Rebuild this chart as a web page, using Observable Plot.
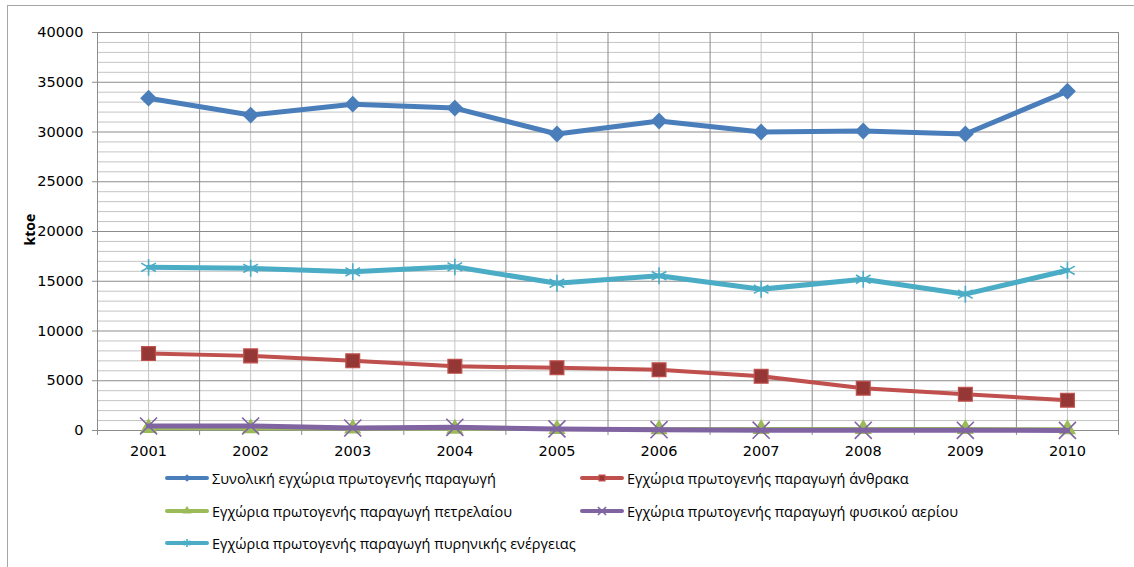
<!DOCTYPE html>
<html>
<head>
<meta charset="utf-8">
<script src="https://cdn.jsdelivr.net/npm/d3@7"></script>
<script src="https://cdn.jsdelivr.net/npm/@observablehq/plot@0.6"></script>
<style>
  html, body { margin: 0; padding: 0; background: #fff; }
  #frame {
    position: absolute; left: 7px; top: 5px; width: 1300px; height: 800px;
    border: 1px solid #a6a6a6; box-sizing: border-box;
  }
  #chart { position: absolute; left: 0; top: 0; }
  #legend { position: absolute; left: 0; top: 0; font-family: "Open Sans", sans-serif; font-size: 14.5px; color: #000; }
  .item { position: absolute; display: flex; align-items: center; white-space: nowrap; }
  .item svg { display: block; margin-right: 3px; }
</style>
</head>
<body>
<div id="frame"></div>
<div id="chart"></div>
<div id="legend"></div>
<script>
// Domestic primary energy production in Greece, ktoe
const years = [2001, 2002, 2003, 2004, 2005, 2006, 2007, 2008, 2009, 2010];
const seriesNames = [
  "Συνολική εγχώρια πρωτογενής παραγωγή",
  "Εγχώρια πρωτογενής παραγωγή άνθρακα",
  "Εγχώρια πρωτογενής παραγωγή πετρελαίου",
  "Εγχώρια πρωτογενής παραγωγή φυσικού αερίου",
  "Εγχώρια πρωτογενής παραγωγή πυρηνικής ενέργειας"
];
const totalValues   = [33400, 31700, 32800, 32400, 29800, 31100, 30000, 30100, 29800, 34100];
const coalValues    = [7730, 7500, 7000, 6450, 6300, 6100, 5450, 4250, 3650, 3050];
const oilValues     = [250, 230, 200, 170, 140, 130, 150, 150, 140, 130];
const gasValues     = [450, 450, 250, 320, 160, 80, 30, 20, 20, 10];
const nuclearValues = [16400, 16300, 15950, 16450, 14800, 15550, 14200, 15200, 13700, 16100];
const yTicks = [0, 5000, 10000, 15000, 20000, 25000, 30000, 35000, 40000];

const valueSets = [totalValues, coalValues, oilValues, gasValues, nuclearValues];

// drawing styles per series
const styles = [
  {stroke: "#4a7ebb", width: 5, symbol: "diamond2", r: 7.6, fill: "#4a7ebb", mstroke: "none",    msw: 0,   lr: 5.2},
  {stroke: "#c0504d", width: 4, symbol: "square",   r: 7.8, fill: "#953735", mstroke: "#c0504d", msw: 1.2, lr: 5.0},
  {stroke: "#9bbb59", width: 4, symbol: "triangle", r: 6.4, fill: "#9bbb59", mstroke: "none",    msw: 0,   lr: 5.0},
  {stroke: "#8064a2", width: 5, symbol: "times",    r: 7.8, fill: "none",    mstroke: "#8064a2", msw: 1.6, lr: 5.6},
  {stroke: "#4bacc6", width: 5, symbol: "asterisk", r: 8.0, fill: "none",    mstroke: "#4bacc6", msw: 1.6, lr: 5.6}
];

const rows = valueSets.map((vals, i) => years.map((year, j) => ({series: seriesNames[i], year, value: vals[j]})));

const minor = d3.range(0, 40001, 1000).filter(v => v % 5000 !== 0);
const boundaries = d3.range(years[0] - 0.5, years[years.length - 1] + 1, 1);

const seriesMarks = rows.flatMap((data, i) => {
  const s = styles[i];
  return [
    Plot.line(data, {x: "year", y: "value", stroke: s.stroke, strokeWidth: s.width, strokeLinejoin: "round", strokeLinecap: "round"}),
    Plot.dot(data, {x: "year", y: "value", symbol: s.symbol, r: s.r, fill: s.fill, stroke: s.mstroke, strokeWidth: s.msw})
  ];
});

const chart = Plot.plot({
  width: 1134,
  height: 470,
  marginLeft: 97,
  marginRight: 16,
  marginTop: 32,
  marginBottom: 40,
  x: {type: "linear", domain: [years[0] - 0.5, years[years.length - 1] + 0.5]},
  y: {domain: [0, 40000]},
  style: {fontFamily: "DejaVu Sans, sans-serif", fontSize: "14.5px", color: "#000", background: "transparent", overflow: "visible"},
  marks: [
    Plot.ruleY(minor, {stroke: "#c4c4c4", strokeWidth: 1}),
    Plot.ruleX(years, {stroke: "#c4c4c4", strokeWidth: 1}),
    Plot.ruleY(yTicks, {stroke: "#8c8c8c", strokeWidth: 1}),
    Plot.ruleX(boundaries, {stroke: "#8c8c8c", strokeWidth: 1}),
    Plot.axisY({ticks: yTicks, tickFormat: "d", tickSize: 5, tickPadding: 9, stroke: "#8c8c8c", label: null}),
    Plot.axisX({ticks: boundaries, tickFormat: () => "", tickSize: 5, stroke: "#8c8c8c", label: null}),
    Plot.axisX({ticks: years, tickFormat: "d", tickSize: 0, tickPadding: 15, label: null}),
    Plot.text(["ktoe"], {frameAnchor: "left", dx: -67, dy: 14, rotate: -90, fontWeight: "bold", fontFamily: "Open Sans, sans-serif", fontSize: 14}),
    ...seriesMarks
  ]
});
document.getElementById("chart").appendChild(chart);

// legend below the plot
const legendPos = [
  {left: 165, top: 478}, {left: 580, top: 478},
  {left: 165, top: 511}, {left: 580, top: 511},
  {left: 165, top: 543}
];
const symbolTypes = {diamond2: d3.symbolDiamond2, square: d3.symbolSquare, triangle: d3.symbolTriangle, times: d3.symbolTimes, asterisk: d3.symbolAsterisk};
const legend = d3.select("#legend");
seriesNames.forEach((name, i) => {
  const s = styles[i];
  const item = legend.append("div").attr("class", "item")
    .style("left", legendPos[i].left + "px")
    .style("top", (legendPos[i].top - 10) + "px")
    .style("height", "20px");
  const svg = item.append("svg").attr("width", 44).attr("height", 12);
  svg.append("line").attr("x1", 2).attr("x2", 42).attr("y1", 6).attr("y2", 6)
    .attr("stroke", s.stroke).attr("stroke-width", 4).attr("stroke-linecap", "round");
  svg.append("path").attr("transform", "translate(22,6)")
    .attr("d", d3.symbol(symbolTypes[s.symbol], s.lr * s.lr * Math.PI * 0.45)())
    .attr("fill", s.fill).attr("stroke", s.mstroke === "none" ? null : s.mstroke).attr("stroke-width", s.msw);
  item.append("span").text(name);
});
</script>
</body>
</html>
